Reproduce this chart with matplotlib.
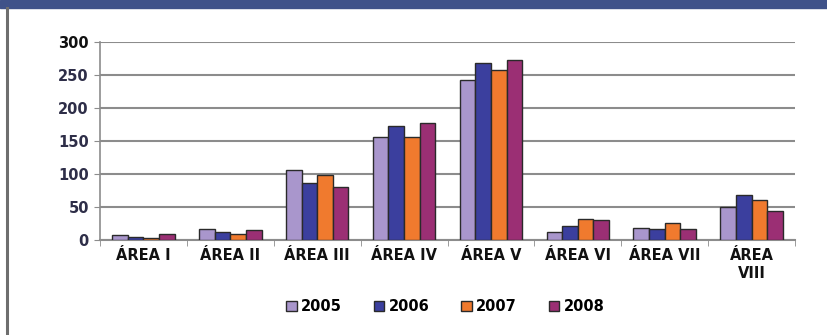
import numpy as np
import matplotlib
matplotlib.use('Agg')
import matplotlib.pyplot as plt
from matplotlib.patches import Rectangle
from matplotlib.lines import Line2D

categories = ['ÁREA I', 'ÁREA II', 'ÁREA III', 'ÁREA IV', 'ÁREA V', 'ÁREA VI', 'ÁREA VII', 'ÁREA\nVIII']
years = ['2005', '2006', '2007', '2008']
v2005 = [7, 16, 105, 156, 242, 11, 18, 50]
v2006 = [4, 12, 86, 173, 268, 21, 16, 68]
v2007 = [2, 8, 98, 155, 257, 31, 25, 60]
v2008 = [8, 14, 80, 177, 273, 29, 16, 43]
series = [v2005, v2006, v2007, v2008]
colors = ['#a996cc', '#3b3f9e', '#f07a2e', '#9b2f74']

plt.rcParams['font.family'] = 'DejaVu Sans'

fig = plt.figure(figsize=(8.27, 3.35), dpi=100)
# header strip and left frame line
fig.patches.append(Rectangle((0, 1 - 8 / 335), 1, 8 / 335, transform=fig.transFigure,
                             color='#3f5289', zorder=0))
fig.lines.append(Line2D([7 / 827, 7 / 827], [0, 1 - 8 / 335], transform=fig.transFigure,
                        color='#6e6e6e', linewidth=2.2))

ax = fig.add_axes([100 / 827, 1 - 239.5 / 335, 695 / 827, 197.5 / 335])

x = np.arange(len(categories))
w = 0.18
for i, (vals, c, yr) in enumerate(zip(series, colors, years)):
    ax.bar(x + (i - 1.5) * w, vals, width=w, color=c, edgecolor='#2a2a2a',
           linewidth=1.0, label=yr, zorder=3)

ax.set_xlim(-0.5, len(categories) - 0.5)
ax.set_ylim(0, 300)
ax.set_yticks(range(0, 301, 50))
ax.yaxis.grid(True, color='#8c8c8c', linewidth=1.5)
ax.set_axisbelow(True)

for s in ['top', 'right']:
    ax.spines[s].set_visible(False)
ax.spines['left'].set_color('#8c8c8c')
ax.spines['bottom'].set_color('#8c8c8c')
ax.spines['left'].set_linewidth(1.2)
ax.spines['bottom'].set_linewidth(1.5)

ax.set_xticks(x)
ax.set_xticklabels(categories, fontsize=10.5, fontweight='bold', color='#111111', linespacing=1.25)
ax.set_xticks(np.arange(-0.5, len(categories)), minor=True)
ax.tick_params(axis='x', which='major', length=0, pad=6)
ax.tick_params(axis='x', which='minor', length=4, color='#8c8c8c')
ax.tick_params(axis='y', length=4, color='#8c8c8c', labelsize=10.5, labelcolor='#2e2e48', pad=4)
for t in ax.get_yticklabels():
    t.set_fontweight('bold')
ax.get_yticklabels()[-1].set_color('#111111')

leg = ax.legend(loc='upper center', bbox_to_anchor=(0.497, -0.235), ncol=4, frameon=False,
                prop={'weight': 'bold', 'size': 10.5}, handlelength=0.7, handleheight=0.7,
                handletextpad=0.3, columnspacing=2.2)

fig.savefig('out.png', dpi=100)
